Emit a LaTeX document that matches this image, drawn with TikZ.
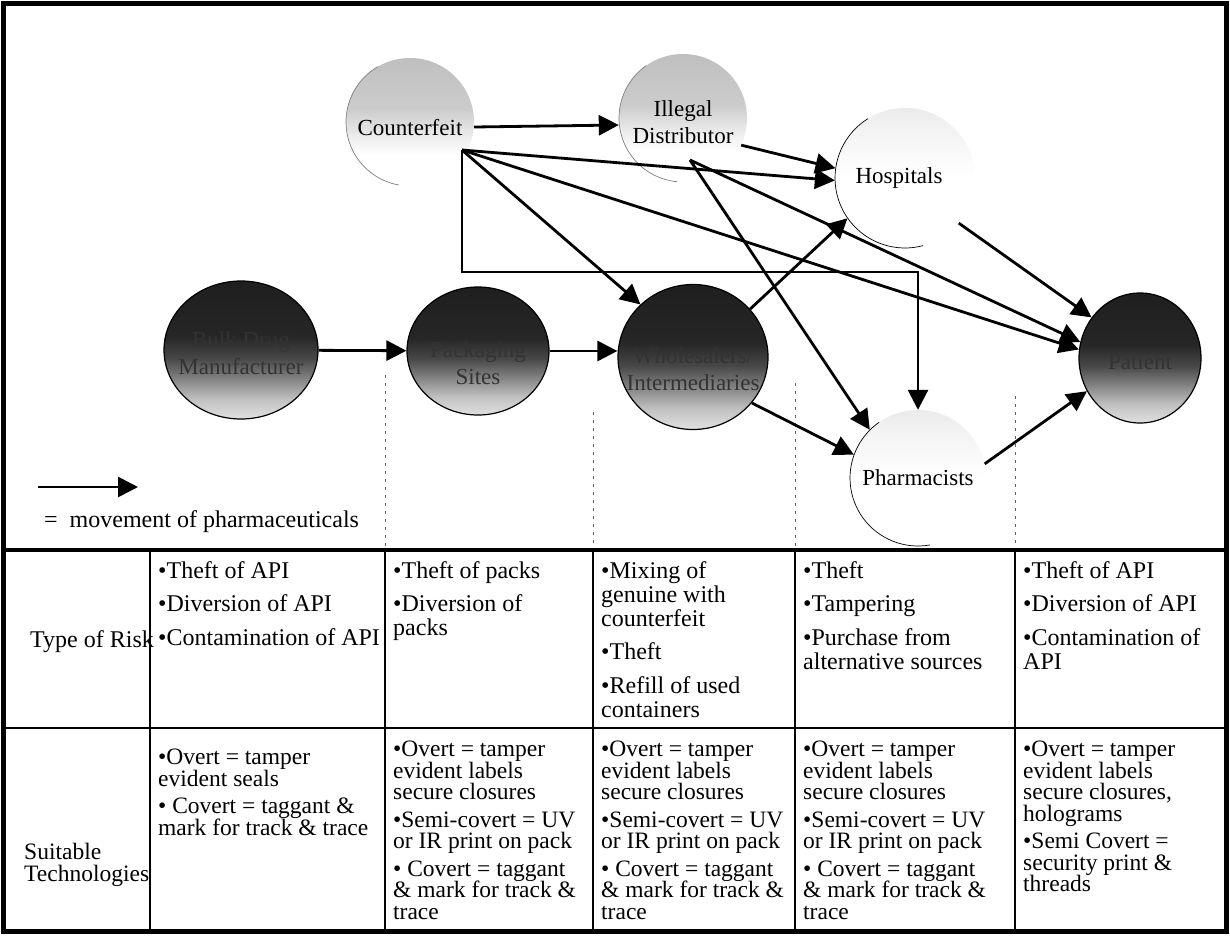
\documentclass[tikz,border=0pt]{standalone}
\usepackage{fontspec}
\setmainfont{Liberation Serif}
\usetikzlibrary{arrows.meta,shapes.geometric}
\pgfdeclareverticalshading{darkball}{100bp}{color(0bp)=(black!12); color(25bp)=(black!12); color(32bp)=(black!24); color(40bp)=(black!50); color(47bp)=(black!72); color(55bp)=(black!85); color(75bp)=(black!88); color(100bp)=(black!88)}
\pgfdeclareverticalshading{lightball}{100bp}{color(0bp)=(white); color(37bp)=(white); color(45bp)=(black!8); color(55bp)=(black!20); color(75bp)=(black!25); color(100bp)=(black!25)}
\pgfdeclareverticalshading{paleball}{100bp}{color(0bp)=(white); color(50bp)=(white); color(65bp)=(black!4); color(75bp)=(black!8); color(100bp)=(black!8)}
\newcommand\ballfnt{\fontsize{23}{27}\selectfont}
\newcommand\riskfnt{\fontsize{24}{24}\selectfont\lineskiplimit=-100pt\relax}
\newcommand\techfnt{\fontsize{23.5}{21.5}\selectfont\lineskiplimit=-100pt\relax}
\begin{document}
\begin{tikzpicture}[x=1pt,y=-1pt,
  ball/.style={ellipse,inner sep=0pt},
  balltext/.style={align=center,font=\ballfnt,inner sep=0pt},
  darkb/.style={ball,draw=black,line width=1.2pt,shading=darkball},
  lightb/.style={ball,shading=lightball},
  paleb/.style={ball,shading=paleball},
  flow/.style={line width=2.8pt,-{Triangle[length=20pt,width=20pt]},line join=miter},
  guide/.style={black!60,line width=0.8pt,dash pattern=on 3pt off 5pt},
  rule/.style={line width=2.5pt},
  riskcell/.style={anchor=north west,inner sep=0pt,align=left,font=\riskfnt},
  techcell/.style={anchor=north west,inner sep=0pt,align=left,font=\techfnt},
  arcline/.style={line width=0.7pt}]
\fill[white] (0,0) rectangle (1230,935);
\useasboundingbox (0,0) rectangle (1230,935);

% ---- balls ----
\node[lightb,minimum size=128pt] (count) at (410,122) {};
\node[lightb,minimum size=128pt] (illeg) at (683,118) {};
\node[paleb,minimum size=140pt] (hosp) at (905,178) {};
\node[darkb,minimum width=154pt,minimum height=138pt] (bulk) at (241,350) {};
\node[darkb,minimum width=142pt,minimum height=128pt] (pack) at (478,351) {};
\node[darkb,minimum width=150pt,minimum height=145pt] (inter) at (693,357) {};
\node[darkb,minimum width=122pt,minimum height=130pt] (pat) at (1140,358) {};
\node[paleb,minimum size=136pt] (pharm) at (918,478) {};

\node[balltext] (countT) at ([yshift=-6pt]count.center) {Counterfeit};
\node[balltext] (illegT) at ([yshift=-4pt]illeg.center) {Illegal\\Distributor};
\node[balltext] (hospT) at ([xshift=-6pt]hosp.center) {Hospitals};
\node[balltext,text=black!80] (bulkT) at ([yshift=-3pt]bulk.center) {Bulk Drug\\Manufacturer};
\node[balltext,text=black!80] (packT) at ([yshift=-12pt]pack.center) {Packaging\\Sites};
\node[balltext,text=black!80] (interT) at ([yshift=-12pt]inter.center) {Wholesalers/\\Intermediaries};
\node[balltext,text=black!80] (patT) at ([yshift=-4pt]pat.center) {Patient};
\node[balltext] (pharmT) at (pharm.center) {Pharmacists};

\draw[arcline,black!50,shift={(count.center)}] plot[domain=100:240,samples=40] ({64*cos(\x)},{64*sin(\x)});
\draw[arcline,black!50,shift={(illeg.center)}] plot[domain=95:235,samples=40] ({64*cos(\x)},{64*sin(\x)});
\draw[arcline,shift={(hosp.center)}] plot[domain=75:238,samples=40] ({70*cos(\x)},{70*sin(\x)});
\draw[arcline,shift={(pharm.center)}] plot[domain=80:235,samples=40] ({68*cos(\x)},{68*sin(\x)});

% ---- guides ----
\draw[guide] (385,375) -- (385,550);
\draw[guide] (593,412) -- (593,550);
\draw[guide] (795,383) -- (795,550);
\draw[guide] (1015,396) -- (1015,550);

% ---- connectors ----
\coordinate (A) at (462,150);
\coordinate (A1) at (462,272);
\coordinate (A2) at (pharm.north |- A1);
\coordinate (B) at (690,160);
\draw[flow] (bulk) -- (pack);
\draw[flow] (pack.east) -- (inter.west |- pack.east);
\draw[flow] ([yshift=-5pt]count.east) -- ([yshift=-7pt]illeg.west);
\draw[flow] (illeg.-25) -- (hosp.172);
\draw[flow] (A) -- (hosp.182);
\draw[flow] (A) -- (inter.135);
\draw[flow] (A) -- (pat.172);
\draw[flow] (A) -- (A1) -- (A2) -- (pharm.north);
\draw[flow] (B) -- (pharm.135);
\draw[flow] (B) -- (pat.165);
\draw[flow] (hosp.-40) -- (pat.140);
\draw[flow] (inter.40) -- (hosp.-145);
\draw[flow] (inter.-38) -- (pharm.160);
\draw[flow] (pharm.12) -- (pat.-148);

% ---- legend ----
\coordinate (L0) at (38,487);
\coordinate (L1) at (138,487);
\draw[flow] (L0) -- (L1);
\node[anchor=base west,font=\riskfnt,inner sep=0pt] (legtxt) at (44,527) {= \ movement of pharmaceuticals};

% ---- table ----
\draw[line width=3.5pt] (3,550) -- (1227,550);
\draw[rule] (3,728) -- (1227,728);
\foreach \x in {150,385,593,795,1015} \draw[rule] (\x,550) -- (\x,932);
\draw[line width=5pt] (3.5,3.5) rectangle (1226.5,931.5);

\node[anchor=base west,font=\riskfnt,inner sep=0pt] (risklab) at (30,647) {Type of Risk};
\node[techcell] (techlab) at (24,843) {Suitable\\Technologies};

\node[riskcell] (r1c1) at (158,561) {•Theft of API\\[9.5pt]•Diversion of API\\[9.5pt]•Contamination of API};
\node[riskcell] (r1c2) at (393,561) {•Theft of packs\\[9.5pt]•Diversion of\\packs};
\node[riskcell] (r1c3) at (601,561) {•Mixing of\\genuine with\\counterfeit\\[9.5pt]•Theft\\[9.5pt]•Refill of used\\containers};
\node[riskcell] (r1c4) at (803,561) {•Theft\\[9.5pt]•Tampering\\[9.5pt]•Purchase from\\alternative sources};
\node[riskcell] (r1c5) at (1023,561) {•Theft of API\\[9.5pt]•Diversion of API\\[9.5pt]•Contamination of\\API};

\node[techcell] (r2c1) at (158,749) {•Overt = tamper\\evident seals\\[6pt]• Covert = taggant \&\\mark for track \& trace};
\node[techcell] (r2c2) at (393,741) {•Overt = tamper\\evident labels\\secure closures\\[6pt]•Semi-covert = UV\\or IR print on pack\\[6pt]• Covert = taggant\\\& mark for track \&\\trace};
\node[techcell] (r2c3) at (601,741) {•Overt = tamper\\evident labels\\secure closures\\[6pt]•Semi-covert = UV\\or IR print on pack\\[6pt]• Covert = taggant\\\& mark for track \&\\trace};
\node[techcell] (r2c4) at (803,741) {•Overt = tamper\\evident labels\\secure closures\\[6pt]•Semi-covert = UV\\or IR print on pack\\[6pt]• Covert = taggant\\\& mark for track \&\\trace};
\node[techcell] (r2c5) at (1023,741) {•Overt = tamper\\evident labels\\secure closures,\\holograms\\[6pt]•Semi Covert =\\security print \&\\threads};
\end{tikzpicture}
\end{document}
